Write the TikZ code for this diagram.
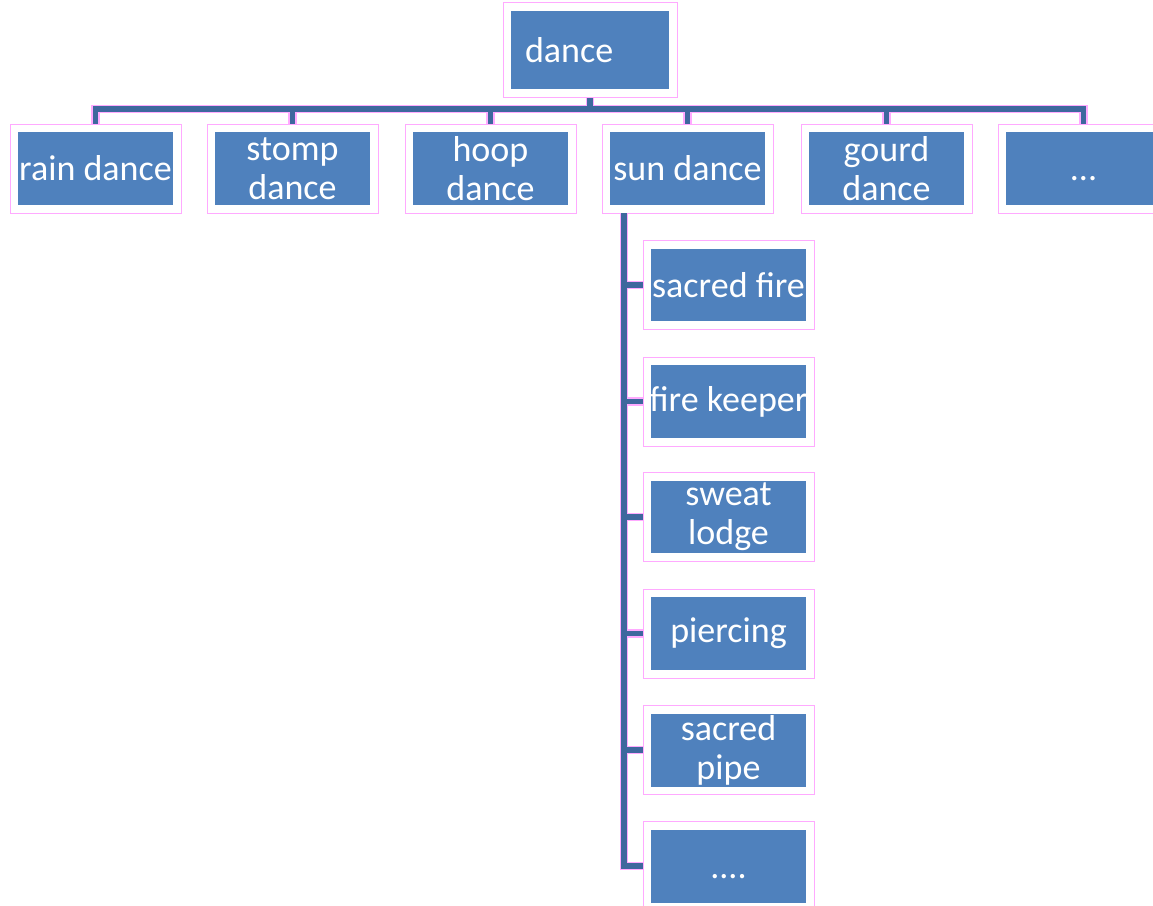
\documentclass[tikz,border=0pt]{standalone}
\usepackage{fontspec}
\setmainfont{Carlito}
\definecolor{boxblue}{RGB}{79,129,189}
\definecolor{linkblue}{RGB}{62,104,158}
\definecolor{rimpink}{RGB}{255,170,255}
\begin{document}
\begin{tikzpicture}[x=0.02cm,y=-0.02cm,
box/.style={shape=rectangle,draw=rimpink,line width=0.5pt,fill=white,minimum width=3.42cm,minimum height=1.78cm,inner sep=0pt,align=center,text=white,font=\fontsize{20.5}{22.2}\selectfont,
path picture={\fill[boxblue] ([xshift=0.16cm,yshift=-0.16cm]path picture bounding box.north west) rectangle ([xshift=-0.16cm,yshift=0.16cm]path picture bounding box.south east);}},
link/.style={draw=linkblue,line width=3.4pt,preaction={draw=rimpink,line width=4.6pt}}]
\useasboundingbox (0,0) rectangle (1153,906);
\node (dance) at (590,50) [box,minimum height=1.9cm,text width=2.6cm,align=left,inner xsep=0.44cm] {dance};
\node (rain) at (95.5,168.5) [box] {rain dance};
\node (stomp) at (292.5,168.5) [box] {stomp\\dance};
\node (hoop) at (490.5,168.5) [box] {hoop\\dance};
\node (sun) at (687.5,168.5) [box] {sun dance};
\node (gourd) at (886.5,168.5) [box] {gourd\\dance};
\node (more) at (1083.5,168.5) [box] {\vphantom{dance}...};
\node (fire) at (728.5,285) [box] {sacred fire};
\node (keeper) at (728.5,401.5) [box] {fire keeper};
\node (lodge) at (728.5,517) [box] {sweat\\lodge};
\node (piercing) at (728.5,633.5) [box] {piercing};
\node (pipe) at (728.5,750) [box] {sacred\\pipe};
\node (etc) at (728.5,866) [box] {\vphantom{dance}....};
\coordinate (bus) at (590,109);
\coordinate (trunk) at ([xshift=0.44cm]sun.south west);
\draw[link] (dance.south) -- (bus) foreach \t in {rain,stomp,hoop,sun,gourd,more} {(bus) -| (\t.north)};
\draw[link] (trunk) foreach \c in {fire,keeper,lodge,piercing,pipe,etc} {(trunk) |- (\c.west)};
\end{tikzpicture}
\end{document}
